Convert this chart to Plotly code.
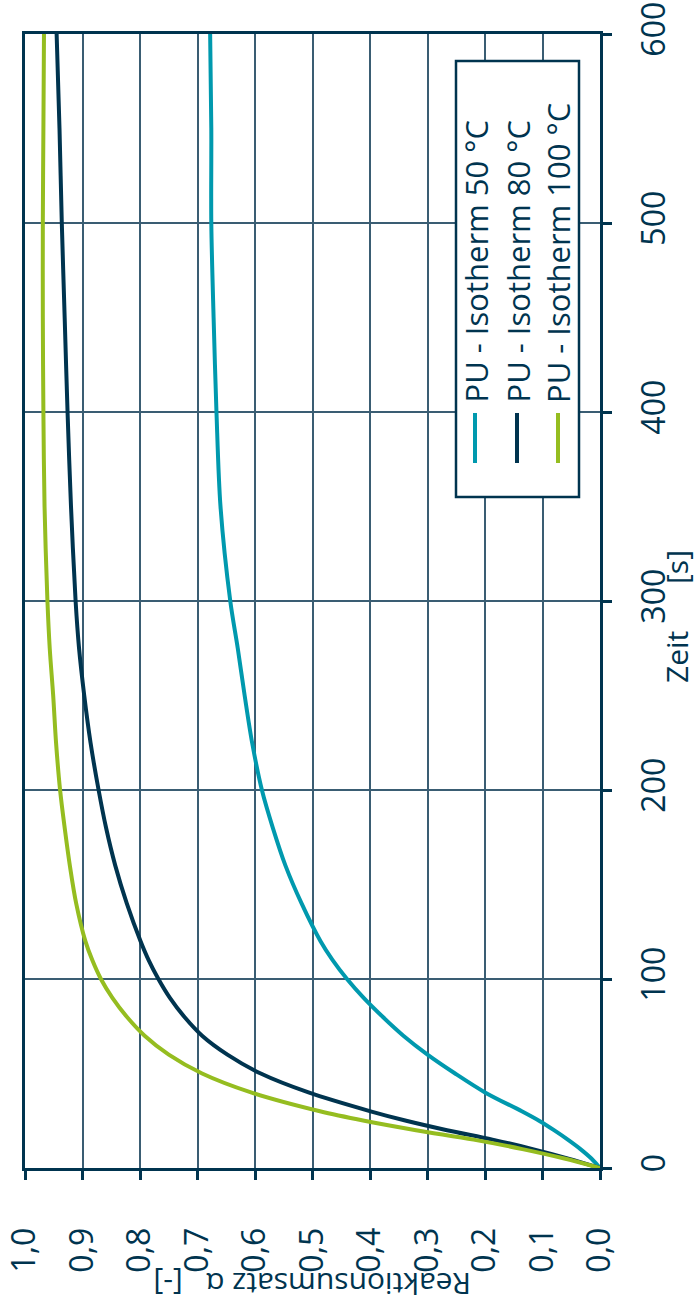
import plotly.graph_objects as go

# Zeit [s]
zeit = [0, 5, 10, 15, 20, 25, 30, 40, 50, 60, 70, 80, 90, 100, 110, 120, 140,
        160, 180, 200, 225, 250, 275, 300, 350, 400, 450, 500, 550, 600]

# Reaktionsumsatz alpha [-]
alpha_50 = [0.0, 0.015, 0.034, 0.056, 0.080, 0.106, 0.136, 0.200, 0.252, 0.300,
            0.342, 0.378, 0.411, 0.440, 0.465, 0.486, 0.519, 0.547, 0.569, 0.588,
            0.605, 0.618, 0.630, 0.643, 0.660, 0.667, 0.672, 0.676, 0.676, 0.678]
alpha_80 = [0.0, 0.055, 0.117, 0.187, 0.266, 0.337, 0.399, 0.507, 0.590, 0.648,
            0.692, 0.723, 0.748, 0.768, 0.785, 0.799, 0.823, 0.843, 0.859, 0.872,
            0.886, 0.897, 0.906, 0.912, 0.920, 0.926, 0.931, 0.936, 0.940, 0.945]
alpha_100 = [0.0, 0.062, 0.135, 0.220, 0.320, 0.410, 0.487, 0.607, 0.692, 0.750,
             0.792, 0.823, 0.848, 0.868, 0.883, 0.895, 0.911, 0.922, 0.931, 0.939,
             0.946, 0.951, 0.957, 0.961, 0.966, 0.968, 0.969, 0.969, 0.968, 0.967]

series_names = ["PU - Isotherm 50 °C", "PU - Isotherm 80 °C", "PU - Isotherm 100 °C"]
series_values = [alpha_50, alpha_80, alpha_100]
series_colors = ["#0099ae", "#00344f", "#95bd20"]

alpha_ticks = [0.0, 0.1, 0.2, 0.3, 0.4, 0.5, 0.6, 0.7, 0.8, 0.9, 1.0]
alpha_labels = ["0,0", "0,1", "0,2", "0,3", "0,4", "0,5", "0,6", "0,7", "0,8", "0,9", "1,0"]
zeit_ticks = [0, 100, 200, 300, 400, 500, 600]
zeit_labels = ["0", "100", "200", "300", "400", "500", "600"]

W, H = 698, 1307
L, R, T, B = 25, 98, 34, 139
INK = "#00344f"
GRID = "#3a5d73"
FONT = "Open Sans"
NBSP = "\u00a0"


def px_x(px):
    return (px - L) / (W - L - R)


def px_y(py):
    return (H - B - py) / (H - T - B)


fig = go.Figure()
for name, vals, col in zip(series_names, series_values, series_colors):
    fig.add_trace(go.Scatter(
        x=vals, y=zeit, mode="lines", name=name,
        line=dict(color=col, width=4, shape="spline", smoothing=0.9),
        showlegend=False, hoverinfo="skip",
    ))

axis_common = dict(
    automargin=False,
    showline=True, linecolor=INK, linewidth=3, mirror=True,
    showgrid=True, gridcolor=GRID, gridwidth=1.5,
    zeroline=False, ticks="outside", ticklen=9, tickwidth=2.5, tickcolor=INK,
    tickangle=-90, tickfont=dict(family=FONT, size=32, color=INK),
)

fig.update_xaxes(
    range=[1.0, 0.0], tickvals=alpha_ticks, ticktext=alpha_labels,
    ticklabelstandoff=35, **axis_common,
)
fig.update_yaxes(
    range=[0, 600], side="right", tickvals=zeit_ticks, ticktext=zeit_labels,
    ticklabelstandoff=15, **axis_common,
)

annotations = [
    dict(text="Zeit" + NBSP * 6 + "[s]", x=px_x(676), y=px_y(617), textangle=-90,
         xanchor="center", yanchor="middle",
         font=dict(family=FONT, size=30, color=INK)),
    dict(text="Reaktionsumsatz α" + NBSP * 3 + "[-]", x=px_x(313), y=px_y(1284),
         textangle=180, xanchor="center", yanchor="middle",
         font=dict(family=FONT, size=30, color=INK)),
]

# Legend drawn as a rotated column block
shapes = [dict(type="rect", xref="paper", yref="paper",
               x0=px_x(456), x1=px_x(579), y0=px_y(497), y1=px_y(61),
               line=dict(color=INK, width=2.5), fillcolor="white", layer="above")]
legend_x = [475, 517, 558]
for name, col, lx in zip(series_names, series_colors, legend_x):
    shapes.append(dict(type="line", xref="paper", yref="paper",
                       x0=px_x(lx), x1=px_x(lx), y0=px_y(463), y1=px_y(413),
                       line=dict(color=col, width=4), layer="above"))
    annotations.append(dict(text=name, x=px_x(lx), y=px_y(405), textangle=-90,
                            xanchor="center", yanchor="bottom",
                            font=dict(family=FONT, size=31, color=INK)))

for a in annotations:
    a.setdefault("xref", "paper")
    a.setdefault("yref", "paper")
    a.setdefault("showarrow", False)

fig.update_layout(
    width=W, height=H,
    margin=dict(l=L, r=R, t=T, b=B, autoexpand=False),
    paper_bgcolor="white", plot_bgcolor="white",
    shapes=shapes, annotations=annotations,
    showlegend=False,
)

fig.write_html("out.html")
